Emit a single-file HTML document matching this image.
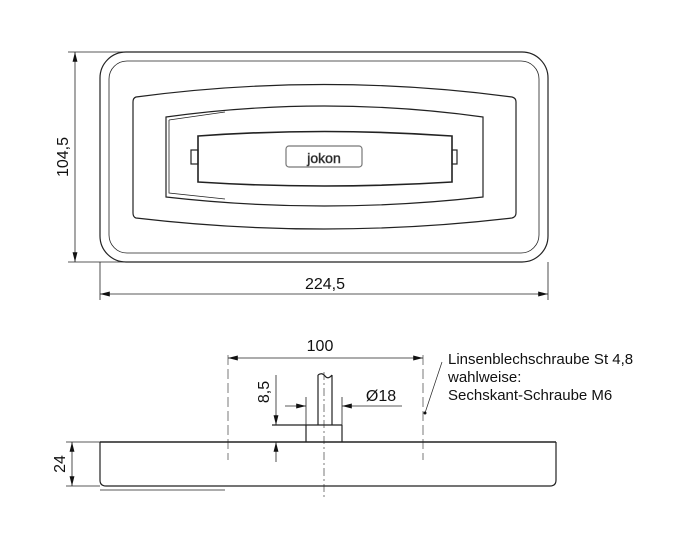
<!DOCTYPE html>
<html><head><style>body{margin:0;background:#fff}svg{display:block}text{font-family:"Liberation Sans",sans-serif;fill:#111}</style></head><body>
<svg width="687" height="545" viewBox="0 0 687 545" xmlns="http://www.w3.org/2000/svg">
<defs><marker id="a" viewBox="0 0 14 10" refX="14" refY="5" markerWidth="14" markerHeight="7" orient="auto-start-reverse" markerUnits="userSpaceOnUse"><path d="M0,1.5 L14,5 L0,8.5z" fill="#111"/></marker></defs>
<g fill="none" stroke="#222" stroke-width="1.2">
<rect x="100" y="52" width="448" height="210" rx="26"/>
<rect x="109" y="61" width="430" height="192" rx="18" stroke-width="0.8"/>
<path d="M136,97 Q324,72 512,97 Q516,98 516,102 L516,213 Q516,217 512,218 Q324,240 136,218 Q133,217 133,213 L133,102 Q133,98 136,97Z"/>
<path d="M166,117 Q324,95 483,117 L483,197 Q324,215 166,197Z"/>
<path d="M169,120 L225,112 M169,120 L169,193 L225,199" stroke-width="0.8"/>
<path d="M198,136 Q324,127 452,136 L452,182 Q324,190 198,182Z" stroke-width="1.6"/>
<rect x="191" y="150" width="7" height="14"/><rect x="452" y="150" width="5" height="14"/>
<rect x="286" y="146" width="76" height="21" rx="3" stroke="#777"/>
<line x1="68" y1="52" x2="125" y2="52" stroke-width="0.8"/><line x1="68" y1="262" x2="125" y2="262" stroke-width="0.8"/>
<line x1="75" y1="52" x2="75" y2="262" stroke-width="0.8" marker-start="url(#a)" marker-end="url(#a)"/>
<line x1="100" y1="262" x2="100" y2="300" stroke-width="0.8"/><line x1="548" y1="262" x2="548" y2="300" stroke-width="0.8"/>
<line x1="100" y1="294" x2="548" y2="294" stroke-width="0.8" marker-start="url(#a)" marker-end="url(#a)"/>
<path d="M100,442 L100,480 Q100,486 106,486 L550,486 Q556,486 556,480 L556,442" />
<line x1="100" y1="442" x2="556" y2="442" stroke-width="1.6"/>
<line x1="100" y1="490" x2="225" y2="490" stroke-width="0.8"/>
<line x1="306" y1="425" x2="306" y2="442"/><line x1="342" y1="425" x2="342" y2="442"/>
<line x1="272" y1="425" x2="342" y2="425"/>
<path d="M318,425 L318,375 M332,425 L332,375 M318,375 Q322,372 325,376 Q328,380 332,375"/>
<line x1="306" y1="397" x2="306" y2="425" stroke-width="0.8"/><line x1="342" y1="397" x2="342" y2="425" stroke-width="0.8"/>
<line x1="324" y1="372" x2="324" y2="500" stroke-width="0.6" stroke-dasharray="8,3,2,3"/>
<line x1="228" y1="355" x2="228" y2="460" stroke-width="0.6" stroke-dasharray="10,4"/>
<line x1="423" y1="355" x2="423" y2="460" stroke-width="0.6" stroke-dasharray="10,4"/>
<line x1="228" y1="358" x2="423" y2="358" stroke-width="0.8" marker-start="url(#a)" marker-end="url(#a)"/>
<line x1="276" y1="375" x2="276" y2="425" stroke-width="0.8" marker-end="url(#a)"/>
<line x1="276" y1="462" x2="276" y2="442" stroke-width="0.8" marker-end="url(#a)"/>
<line x1="285" y1="406" x2="306" y2="406" stroke-width="0.8" marker-end="url(#a)"/>
<line x1="402" y1="406" x2="342" y2="406" stroke-width="0.8" marker-end="url(#a)"/>
<line x1="72" y1="442" x2="72" y2="486" stroke-width="0.8" marker-start="url(#a)" marker-end="url(#a)"/>
<line x1="66" y1="442" x2="100" y2="442" stroke-width="0.8"/><line x1="66" y1="486" x2="100" y2="486" stroke-width="0.8"/>
<polyline points="425,413 442,362" stroke-width="0.7"/>
</g>
<circle cx="425" cy="413" r="1.5" fill="#111"/>
<text x="324" y="163" font-size="14" fill="none" stroke="#555" stroke-width="0.6" text-anchor="middle">jokon</text>
<text x="325" y="289" font-size="16" text-anchor="middle">224,5</text>
<text transform="translate(68,157) rotate(-90)" font-size="16" text-anchor="middle">104,5</text>
<text x="320" y="351" font-size="16" text-anchor="middle">100</text>
<text transform="translate(269,392) rotate(-90)" font-size="16" text-anchor="middle">8,5</text>
<text x="381" y="401" font-size="16" text-anchor="middle">Ø18</text>
<text transform="translate(65,464) rotate(-90)" font-size="16" text-anchor="middle">24</text>
<text x="448" y="364" font-size="15">Linsenblechschraube St 4,8</text>
<text x="448" y="382" font-size="15">wahlweise:</text>
<text x="448" y="400" font-size="15">Sechskant-Schraube M6</text>
</svg>
</body></html>
